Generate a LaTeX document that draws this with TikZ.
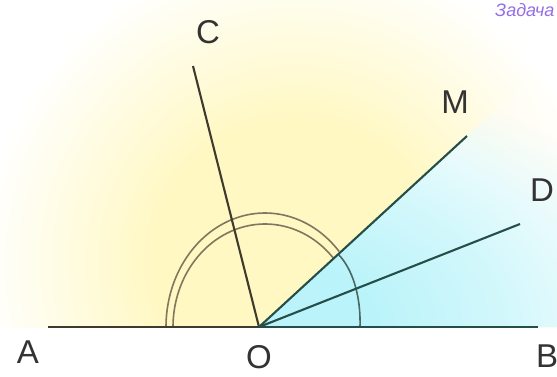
\documentclass[tikz,border=0pt]{standalone}
\usepackage{fontspec}
\setmainfont{Liberation Sans}
\usetikzlibrary{calc,fadings}
\definecolor{ylw}{RGB}{255,248,194}
\definecolor{cyn}{RGB}{186,244,250}
\definecolor{ink}{RGB}{62,58,46}
\definecolor{teal}{RGB}{38,78,72}
\definecolor{arcc}{RGB}{130,118,96}
\definecolor{purp}{RGB}{150,110,230}
\pgfdeclareradialshading{ybg}{\pgfpoint{0bp}{0bp}}{color(0bp)=(ylw); color(11bp)=(ylw); color(25bp)=(white); color(50bp)=(white)}
\pgfdeclareradialshading{cfadeshade}{\pgfpoint{0bp}{0bp}}{color(0bp)=(white); color(6bp)=(white); color(13bp)=(gray!75); color(22bp)=(black); color(50bp)=(black)}
\pgfdeclarefading{cfade}{\pgfuseshading{cfadeshade}}
\pgfdeclareradialshading{wfadeshade}{\pgfpoint{0bp}{0bp}}{color(0bp)=(white); color(17bp)=(white); color(25bp)=(black); color(50bp)=(black)}
\pgfdeclarefading{wfade}{\pgfuseshading{wfadeshade}}
\begin{document}
\begin{tikzpicture}[x=1pt,y=-1pt,
  ray/.style={line width=2.1pt,draw=ink},
  tray/.style={line width=2.1pt,draw=teal},
  dblarc/.style={line width=1.6pt,draw=arcc},
  lbl/.style={font=\fontsize{33}{33}\selectfont,text=black!80,inner sep=0pt}]
\useasboundingbox (0,0) rectangle (557,376);
\clip (0,0) rectangle (557,376);
\fill[white] (0,0) rectangle (557,376);
\begin{scope}
  \clip (0,0) rectangle (557,327);
  \shade[shading=ybg] (295,262) circle (315);
\end{scope}
\coordinate (O) at (259,327);
\coordinate (Aend) at (48,327);
\coordinate (Bend) at (538,327);
\coordinate (Cend) at (193,66);
\coordinate (Mend) at (467,136);
\coordinate (Dend) at (520,224);
\begin{scope}
  \clip (O) -- (700,327) -- ($(O)!3!(Mend)$) -- cycle;
  \fill[white, path fading=wfade, fit fading=true] (O) ellipse [x radius=480, y radius=300];
  \fill[cyn, path fading=cfade, fit fading=true] (O) ellipse [x radius=480, y radius=300];
\end{scope}
% arcs
\draw[line width=1.6pt,draw=teal!85] (338,254) .. controls (352,268) and (361,295) .. (360,327);
\draw[dblarc] plot[domain=41.5:180,samples=60,smooth] ({265+99*cos(\x)},{327-114*sin(\x)});
\draw[dblarc] plot[domain=42:180,samples=60,smooth] ({265+92*cos(\x)},{327-103*sin(\x)});
% lines
\draw[ray] (Aend) -- (O);
\draw[tray] (O) -- (Bend);
\draw[ray] (O) -- (Cend);
\draw[tray] (O) -- (Mend);
\draw[tray] (O) -- (Dend);
% labels
\node[lbl] (C) at (208,32) {C};
\node[lbl] (M) at (455,102) {M};
\node[lbl] (D) at (542,190) {D};
\node[lbl] (A) at (28,352) {A};
\node[lbl] (Ol) at (259,357) {O};
\node[lbl] (B) at (547,356) {B};
\node[anchor=west,inner sep=0pt,text=purp,font=\fontsize{18}{18}\selectfont\itshape] (t) at (495,10) {Задача};
\end{tikzpicture}
\end{document}
